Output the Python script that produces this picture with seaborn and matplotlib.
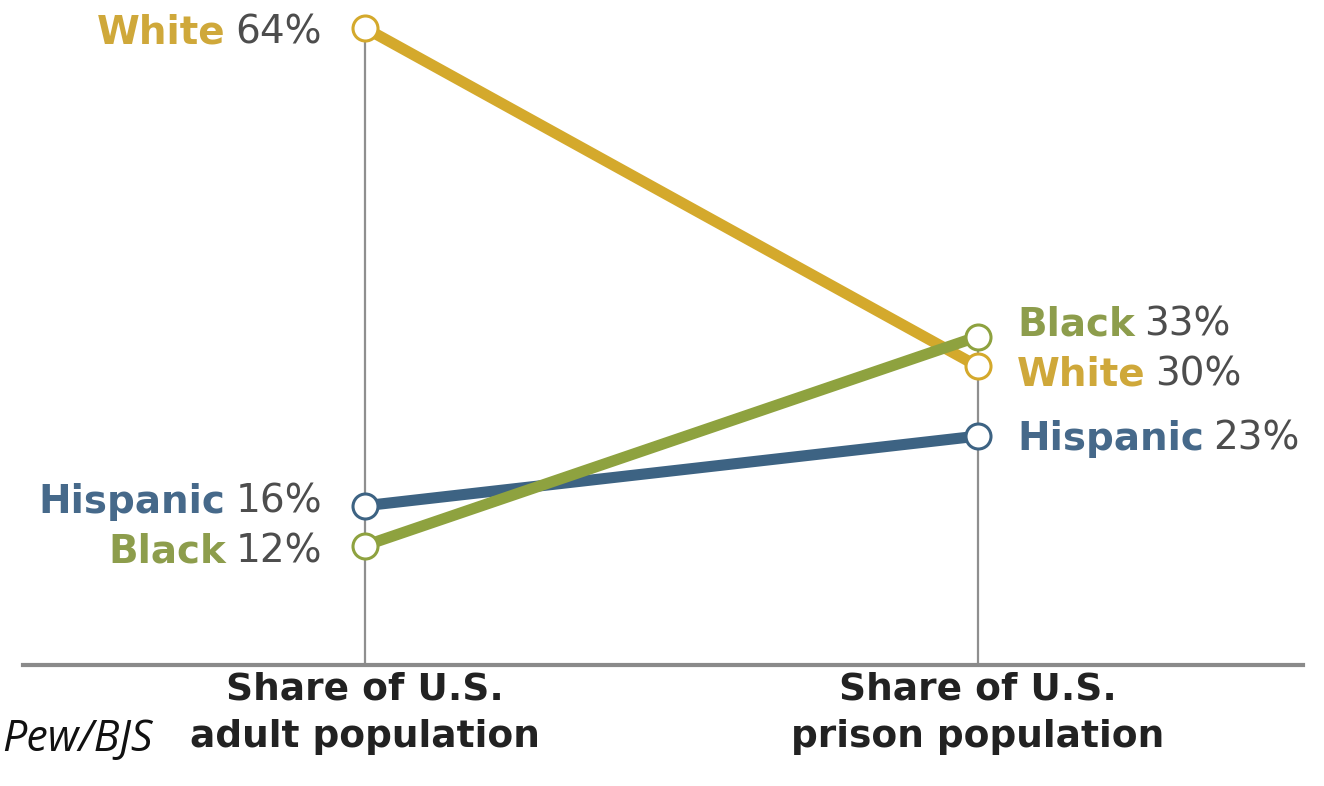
import matplotlib
matplotlib.use("Agg")
import matplotlib.pyplot as plt
import seaborn as sns
import pandas as pd

# Racial shares of the U.S. adult population vs. the prison population
groups = ["Hispanic", "White", "Black"]
adult_share = [16, 64, 12]
prison_share = [23, 30, 33]
stage_labels = ["Share of U.S.\nadult population", "Share of U.S.\nprison population"]
source_note = "Pew/BJS"

colors = {"White": "#d4a92c", "Black": "#8ea23f", "Hispanic": "#3d6383"}
label_colors = {"White": "#cfa83a", "Black": "#8d9d4c", "Hispanic": "#46698a"}

# vertical nudges (points) that keep the stacked labels from colliding
left_nudge = {"White": -3, "Hispanic": 3, "Black": -4}
right_nudge = {"White": -6, "Hispanic": -2, "Black": 9}

rows = []
for g, a, p in zip(groups, adult_share, prison_share):
    rows.append({"group": g, "pos": 0, "share": a})
    rows.append({"group": g, "pos": 1, "share": p})
df = pd.DataFrame(rows)

sns.set_theme(style="white")
plt.rcParams["font.family"] = ["DejaVu Sans"]

fig = plt.figure(figsize=(13.24, 7.86), dpi=100)
ax = fig.add_axes([23 / 1324, (786 - 665) / 786, 1280 / 1324, 655 / 786])
ax.set_xlim(-342 / 613, 938 / 613)
ax.set_ylim(0, 655 / 9.953)

# vertical guide lines at both stages
ax.vlines(0, 0, max(adult_share), color="#8f8f8f", lw=1.6, zorder=1)
ax.vlines(1, 0, max(prison_share), color="#8f8f8f", lw=1.6, zorder=1)

sns.lineplot(data=df, x="pos", y="share", hue="group", hue_order=groups,
             palette=colors, linewidth=8, legend=False, ax=ax, zorder=3)
for line in ax.lines[2:]:
    line.set_solid_capstyle("butt")

# open circle markers drawn above all lines
for g, a, p in zip(groups, adult_share, prison_share):
    ax.plot([0, 1], [a, p], ls="none", marker="o", ms=18, mfc="white",
            mec=colors[g], mew=2.2, zorder=5, alpha=1)

fs = 28
num_color = "#4d4d4d"
for g, a, p in zip(groups, adult_share, prison_share):
    # left side: right-aligned "Name NN%"
    t = ax.annotate(f"{a}%", xy=(0, a), xytext=(-31, left_nudge[g]), textcoords="offset points",
                    ha="right", va="center", fontsize=fs, color=num_color)
    ax.annotate(g, xy=(0, 0.5), xycoords=t, xytext=(-7, 0), textcoords="offset points",
                ha="right", va="center", fontsize=fs, color=label_colors[g], fontweight="bold")
    # right side: left-aligned "Name NN%"
    n = ax.annotate(g, xy=(1, p), xytext=(28, right_nudge[g]), textcoords="offset points",
                    ha="left", va="center", fontsize=fs, color=label_colors[g], fontweight="bold")
    ax.annotate(f"{p}%", xy=(1, 0.5), xycoords=n, xytext=(7, 0), textcoords="offset points",
                ha="left", va="center", fontsize=fs, color=num_color)

for sp in ["top", "right", "left"]:
    ax.spines[sp].set_visible(False)
ax.spines["bottom"].set_color("#8a8a8a")
ax.spines["bottom"].set_linewidth(3)

ax.set_xticks([0, 1])
ax.set_xticklabels(stage_labels, fontsize=27, fontweight="bold", color="#222222",
                   linespacing=1.4)
ax.tick_params(axis="x", length=0, pad=5)
ax.set_yticks([])
ax.set_xlabel("")
ax.set_ylabel("")

fig.text(2 / 1324, 1 - 740 / 786, source_note, fontsize=31, style="italic",
         color="#111111", ha="left", va="center", family=["Open Sans", "DejaVu Sans"])

fig.savefig("out.png", dpi=100, facecolor="white")
